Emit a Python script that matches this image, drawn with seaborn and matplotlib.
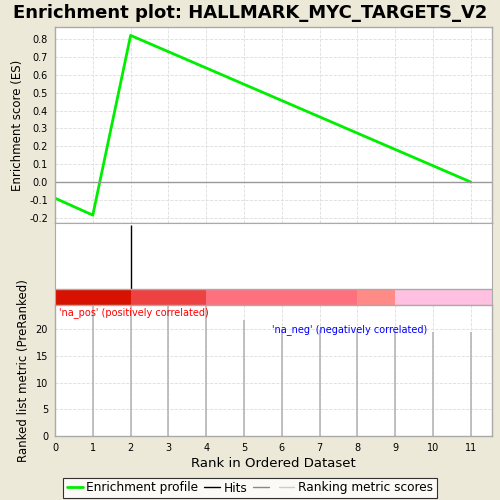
"""
Enrichment plot (GSEA style) for HALLMARK_MYC_TARGETS_V2, drawn with seaborn.
"""

import numpy as np
import pandas as pd
import matplotlib
matplotlib.use("Agg")
import matplotlib.pyplot as plt
from matplotlib.lines import Line2D
import seaborn as sns

# enrichment profile
es_rank = [0, 1, 2, 11]
es_score = [-0.09, -0.185, 0.82, 0.0]

# positions of the gene set hits
hit_ranks = [2]

# ranking metric scores per rank
metric_rank = [0, 1, 2, 3, 4, 5, 6, 7, 8, 9, 10, 11]
metric_score = [26.0, 25.6, 25.3, 25.0, 24.8, 21.7, 20.0, 19.8, 19.7, 19.6, 19.5, 19.5]

# colour band along the ranked list
band_edges = [0, 2, 4, 8, 9, 11.56]
band_colors = ["#d81200", "#ee4242", "#ff707e", "#ff8a86", "#ffc0e2"]

x_ticks = list(range(0, 12))
es_ticks = [-0.2, -0.1, 0.0, 0.1, 0.2, 0.3, 0.4, 0.5, 0.6, 0.7, 0.8]
metric_ticks = [0, 5, 10, 15, 20]

BG = "#ece9d8"
SPINE = "#aaaaaa"
XMAX = 11.56

sns.set_style("whitegrid", {"grid.linestyle": "--", "grid.color": "#e0e0e0",
                            "axes.edgecolor": SPINE})
plt.rcParams["font.family"] = ["DejaVu Sans"]
plt.rcParams["text.color"] = "black"
plt.rcParams["axes.labelcolor"] = "black"
plt.rcParams["xtick.color"] = "black"
plt.rcParams["ytick.color"] = "black"

fig = plt.figure(figsize=(5, 5), dpi=100, facecolor=BG)
fig.suptitle("Enrichment plot: HALLMARK_MYC_TARGETS_V2", fontsize=13,
             fontweight="bold", y=0.993, color="black")


def style_axes(ax):
    for sp in ax.spines.values():
        sp.set_color(SPINE)
        sp.set_linewidth(1)
    ax.tick_params(labelcolor="black", labelsize=7, length=3, color=SPINE,
                   width=0.8, pad=2)
    ax.grid(True, linestyle="--", color="#dddddd", linewidth=0.6)


# top panel: running enrichment score
ax_es = fig.add_axes([0.11, 0.554, 0.874, 0.392])
es_df = pd.DataFrame({"rank": es_rank, "es": es_score})
sns.lineplot(data=es_df, x="rank", y="es", ax=ax_es, color="#00ee00",
             linewidth=2, sort=False)
ax_es.axhline(0, color="#999999", linewidth=1)
ax_es.set_xlim(0, XMAX)
ax_es.set_ylim(-0.229, 0.867)
ax_es.set_xticks(x_ticks)
ax_es.set_xticklabels([])
ax_es.set_yticks(es_ticks)
ax_es.set_yticklabels(["%.1f" % t for t in es_ticks])
ax_es.set_xlabel("")
ax_es.set_ylabel("Enrichment score (ES)", fontsize=8.5, color="black")
style_axes(ax_es)

# middle panel: hits and colour band
ax_hit = fig.add_axes([0.11, 0.39, 0.874, 0.164])
ax_hit.set_xlim(0, XMAX)
ax_hit.set_ylim(0, 1)
for left, right, col in zip(band_edges[:-1], band_edges[1:], band_colors):
    ax_hit.axvspan(left, right, ymin=0, ymax=0.195, color=col, lw=0)
ax_hit.vlines(hit_ranks, 0.195, 0.976, color="black", linewidth=1)
ax_hit.set_xticks([])
ax_hit.set_yticks([])
ax_hit.grid(False)
for sp in ax_hit.spines.values():
    sp.set_color(SPINE)
ax_hit.axhline(0.195, color=SPINE, linewidth=1)

# bottom panel: ranked list metric
ax_m = fig.add_axes([0.11, 0.128, 0.874, 0.262])
ax_m.vlines(metric_rank, 0, metric_score, color="#b0b0b0", linewidth=1.1)
ax_m.set_xlim(0, XMAX)
ax_m.set_ylim(0, 24.5)
ax_m.set_xticks(x_ticks)
ax_m.set_yticks(metric_ticks)
ax_m.set_xlabel("Rank in Ordered Dataset", fontsize=9.5, labelpad=3,
                color="black")
ax_m.set_ylabel("Ranked list metric (PreRanked)", fontsize=8.5, color="black")
style_axes(ax_m)
ax_m.text(0.1, 24.2, "'na_pos' (positively correlated)", color="red",
          fontsize=7, va="top", ha="left")
ax_m.text(5.75, 20.0, "'na_neg' (negatively correlated)", color="blue",
          fontsize=7, va="center", ha="left")

handles = [Line2D([], [], color="#00ee00", lw=2),
           Line2D([], [], color="black", lw=1),
           Line2D([], [], color="#888888", lw=1),
           Line2D([], [], color="#cccccc", lw=1)]
labels = ["Enrichment profile", "Hits", "", "Ranking metric scores"]
leg = fig.legend(handles, labels, loc="center", bbox_to_anchor=(0.5, 0.024),
                 ncol=4, fontsize=8.7, frameon=True, fancybox=False,
                 handlelength=1.3, handletextpad=0.3, columnspacing=0.5,
                 borderpad=0.3, edgecolor="black", labelcolor="black")
leg.get_frame().set_linewidth(0.8)

fig.savefig("out.png", dpi=100, facecolor=BG)
